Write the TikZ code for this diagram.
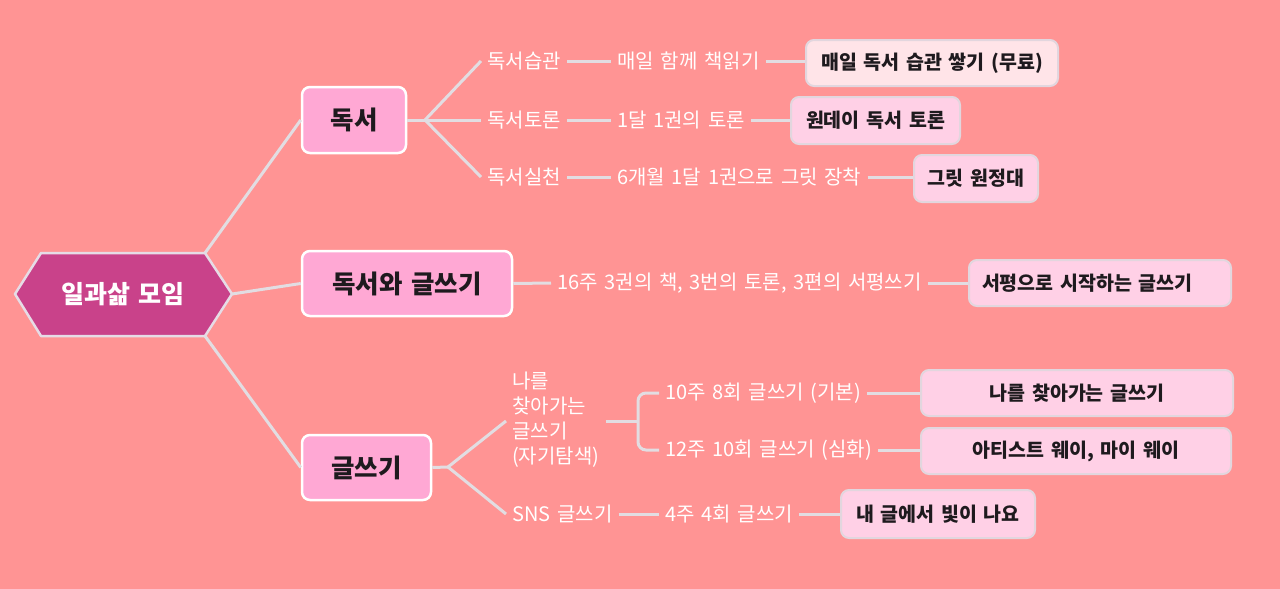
\documentclass[tikz,border=0pt]{standalone}
\usepackage{fontspec}
\setmainfont[WordSpace=1.5]{Noto Sans CJK KR}
\definecolor{bg}{HTML}{FF9494}
\definecolor{hubfill}{HTML}{C9428A}
\definecolor{hubline}{HTML}{E6DCE6}
\definecolor{lonefill}{HTML}{FFA8D4}
\definecolor{leaffill}{HTML}{FFD0E6}
\definecolor{leaffirst}{HTML}{FFE4E8}
\definecolor{leafline}{HTML}{E2D6DE}
\definecolor{conn}{HTML}{E2DDE2}
\definecolor{ink}{HTML}{1E1A1E}
\tikzset{
  connline/.style={draw=conn, line width=3pt},
  lone/.style={draw=white, fill=lonefill, line width=2.5pt, rounded corners=8pt, inner sep=0pt,
    text=ink, font=\fontsize{25.5}{28}\selectfont\bfseries},
  leaf/.style={draw=leafline, fill=leaffill, line width=2pt, rounded corners=8pt, inner sep=0pt,
    text=ink, font=\fontsize{19.5}{22}\selectfont\bfseries},
  lbl/.style={anchor=west, inner xsep=6pt, inner ysep=2pt, text=white, font=\fontsize{20}{22}\selectfont},
}
\begin{document}
\begin{tikzpicture}[x=1pt,y=-1pt]
\fill[bg] (0,0) rectangle (1280,589);
\useasboundingbox (0,0) rectangle (1280,589);
% hub hexagon
\coordinate (hL) at (15,294);
\coordinate (hTL) at (41,253);
\coordinate (hTR) at (205,253);
\coordinate (hR) at (232,294);
\coordinate (hBR) at (205,336);
\coordinate (hBL) at (41,336);
\draw[draw=hubline, fill=hubfill, line width=2.5pt, line join=round] (hL) -- (hTL) -- (hTR) -- (hR) -- (hBR) -- (hBL) -- cycle;
\node[text=white, font=\fontsize{25}{28}\selectfont\bfseries] (hub) at (123,294) {일과삶 모임};
% level 1
\node[lone, minimum width=104pt, minimum height=66pt] (b1) at (354,120) {독서};
\node[lone, minimum width=210pt, minimum height=65pt] (b2) at (407,283.5) {독서와 글쓰기};
\node[lone, minimum width=129pt, minimum height=65pt] (b3) at (366.5,467.5) {글쓰기};
\draw[connline] (hTR) -- (b1.west);
\draw[connline] (hR) -- (b2.west);
\draw[connline] (hBR) -- (b3.west);
% leaves
\node[leaf, fill=leaffirst, minimum width=252pt, minimum height=46pt] (l1) at (932,63) {매일 독서 습관 쌓기 (무료)};
\node[leaf, minimum width=169pt, minimum height=47pt] (l2) at (875.5,120.5) {원데이 독서 토론};
\node[leaf, minimum width=124pt, minimum height=47pt] (l3) at (976,178.5) {그릿 원정대};
\node[leaf, minimum width=262pt, minimum height=46pt, text width=236pt, align=left] (l4) at (1100,283) {서평으로 시작하는 글쓰기};
\node[leaf, minimum width=312pt, minimum height=46pt] (l5) at (1077,393) {나를 찾아가는 글쓰기};
\node[leaf, minimum width=310pt, minimum height=46pt] (l6) at (1076,451) {아티스트 웨이, 마이 웨이};
\node[leaf, minimum width=194pt, minimum height=48pt] (l7) at (938,514) {내 글에서 빛이 나요};
% 독서 branch
\coordinate (j1) at (425,120);
\node[lbl] (a1) at (481,61) {독서습관};
\node[lbl] (a2) at (481,120) {독서토론};
\node[lbl] (a3) at (481,177) {독서실천};
\node[lbl] (c1) at (611,61) {매일 함께 책읽기};
\node[lbl] (c2) at (611,120) {1달 1권의 토론};
\node[lbl] (c3) at (611,177) {6개월 1달 1권으로 그릿 장착};
\draw[connline] (b1.east) -- (j1);
\draw[connline] (j1) -- (a1.west);
\draw[connline] (j1) -- (a2.west);
\draw[connline] (j1) -- (a3.west);
\draw[connline] (a1.east) -- (c1.west);
\draw[connline] (a2.east) -- (c2.west);
\draw[connline] (a3.east) -- (c3.west);
\draw[connline] (c1.east) -- (c1.east -| l1.west);
\draw[connline] (c2.east) -- (c2.east -| l2.west);
\draw[connline] (c3.east) -- (c3.east -| l3.west);
% 독서와 글쓰기 branch
\node[lbl] (m1) at (551,283) {16주 3권의 책, 3번의 토론, 3편의 서평쓰기};
\draw[connline] (b2.east) -- (m1.west);
\draw[connline] (m1.east) -- (m1.east -| l4.west);
% 글쓰기 branch
\coordinate (j3) at (448,467);
\node[lbl, align=left, font=\fontsize{20}{25}\selectfont] (w1) at (506,420) {나를\\찾아가는\\글쓰기\\(자기탐색)};
\node[lbl] (w2) at (506,514) {SNS 글쓰기};
\node[lbl] (x1) at (659,393) {10주 8회 글쓰기 (기본)};
\node[lbl] (x2) at (659,450) {12주 10회 글쓰기 (심화)};
\node[lbl] (x3) at (659,514) {4주 4회 글쓰기};
\coordinate (bj) at (638,421);
\draw[connline] (b3.east) -- (j3);
\draw[connline] (j3) -- (w1.west |- 0,421);
\draw[connline] (j3) -- (w2.west);
\draw[connline] (w1.east |- bj) -- (bj);
\draw[connline, rounded corners=8pt] (x1.west) -| (bj) |- (x2.west);
\draw[connline] (w2.east) -- (x3.west);
\draw[connline] (x1.east) -- (x1.east -| l5.west);
\draw[connline] (x2.east) -- (x2.east -| l6.west);
\draw[connline] (x3.east) -- (x3.east -| l7.west);
\end{tikzpicture}
\end{document}
